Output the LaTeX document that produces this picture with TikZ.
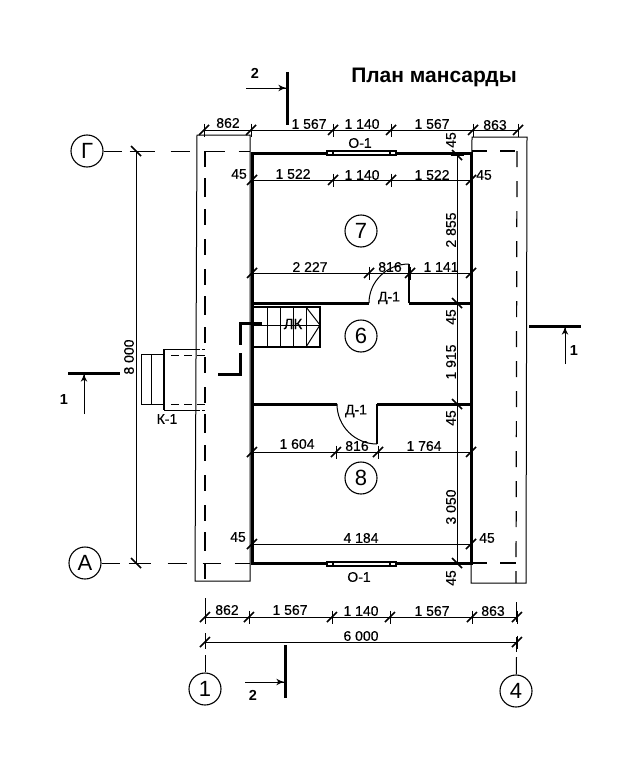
\documentclass[tikz,border=0pt]{standalone}
\usepackage{fontspec}
\setmainfont{Liberation Sans}
\newfontfamily\dimfont[FakeBold=0.4]{Liberation Sans}
\usetikzlibrary{arrows}
\usetikzlibrary{decorations.markings}
\tikzset{->/.style = {decoration={markings,
                                  mark=at position 1 with {\arrow[scale=1.5]{latex'}}},
                      postaction={decorate}}}
\tikzset{wall/.style = {line width = 3pt}}
\tikzset{thinline/.style = {line width = 1pt}}
\tikzset{section/.style = {line width = 3pt}}
\tikzset{axisline/.style = {line width = 1pt, dash pattern = on 17pt off 15pt}}
\tikzset{vaxis/.style = {line width = 1.2pt, dash pattern = on 16pt off 14pt}}
\tikzset{dimtxt/.style = {inner sep = 0, font = \dimfont\fontsize{14}{14}\selectfont}}
\tikzset{dimvert/.style = {dimtxt, rotate = 90}}
\tikzset{seclabel/.style = {inner sep = 0, font = \fontsize{14.5}{15}\selectfont\bfseries}}
\tikzset{bubble/.style = {draw, circle, line width = 1.1pt, inner sep = 0, minimum size = 32,
                          font = \fontsize{22}{22}\selectfont}}
\tikzset{tickh/.pic = {\draw [line width = 1.6pt] (-5, 5) -- (5, -5);
                       \draw [line width = 0.8pt] (0, -6.5) -- (0, 6.5);}}
\tikzset{tickv/.pic = {\draw [line width = 1.6pt] (-5, -5) -- (5, 5);
                       \draw [line width = 0.8pt] (-6.5, 0) -- (6.5, 0);}}

\begin{document}
\begin{tikzpicture}[x = 1pt, y = -1pt]
    \useasboundingbox (0, 0) rectangle (622, 768);
    \node [font = \fontsize{21}{21}\selectfont\bfseries, inner sep = 0] (title) at (434, 77) {План мансарды};

    % overhangs
    \draw [thinline] (197, 135) -- (250, 135) -- (250, 581) -- (195, 581) -- cycle;
    \draw [thinline] (472, 137) -- (527, 137) -- (526, 583) -- (471, 583) -- cycle;

    % grid bubbles and axes
    \node [bubble] (axG) at (87, 151) {Г};
    \node [bubble] (axA) at (85, 563) {А};
    \node [bubble] (ax1) at (205, 689) {1};
    \node [bubble] (ax4) at (516, 691) {4};
    \draw [axisline, dash pattern = on 18pt off 11pt on 22pt off 16pt on 19pt off 16pt on 19pt off 14pt on 14pt off 100pt] (axG) -- (250, 151);
    \draw [axisline, dash pattern = on 18pt off 9pt on 22pt off 17pt on 19pt off 16pt on 18pt off 14pt on 16pt off 100pt] (axA) -- (250, 563);
    \draw [axisline, line width = 1.2pt, dash pattern = on 15pt off 13pt on 15pt off 100pt] (472, 151) -- (517, 151);
    \draw [axisline, line width = 1.2pt, dash pattern = on 15pt off 13pt on 16pt off 100pt] (472, 563) -- (516, 563);
    \draw [vaxis, dash pattern = on 16pt off 11pt on 19pt off 12pt on 16pt off 14pt on 16pt off 14pt] (205, 151) -- (205, 581);
    \draw [vaxis] (517, 151) -- (516, 583);
    \draw [thinline] (205, 598) -- (205, 622);
    \draw [thinline] (205, 633) -- (205, 648);
    \draw [thinline] (205, 655) -- (ax1);
    \draw [thinline] (516.5, 602) -- (516.5, 622);
    \draw [thinline] (516.5, 637) -- (516.5, 652);
    \draw [thinline] (516.5, 657) -- (ax4);

    % outer walls
    \draw [wall] (252, 565) -- (252, 153) -- (471, 153) -- (471, 565);
    \draw [line width = 2.5pt] (252, 563.5) -- (471, 563.5);

    % windows
    \foreach \y in {153, 564} {
      \draw [fill = white, line width = 1.3pt] (327, \y - 2) rectangle (396, \y + 2);
      \draw [line width = 1.2pt] (333, \y - 2) -- (333, \y + 2) (390, \y - 2) -- (390, \y + 2);
    }

    % partitions and doors
    \draw [wall] (252, 303) -- (369, 303);
    \draw [wall] (409, 303) -- (471, 303);
    \draw [wall] (252, 404) -- (337, 404);
    \draw [wall] (377, 404) -- (471, 404);
    \draw [line width = 1.8pt] (409, 303) -- (409, 264);
    \draw [line width = 1.8pt] (377, 404) -- (377, 444);
    \draw [thinline] (369, 303) arc [start angle = 180, end angle = 90, x radius = 40, y radius = -39];
    \draw [thinline] (337, 404) arc [start angle = 180, end angle = 270, x radius = 40, y radius = -40];

    % stair
    \draw [line width = 2.5pt] (253, 307) rectangle (320, 347);
    \foreach \x in {267, 280, 293, 306} {
      \draw [thinline] (\x, 307) -- (\x, 347);
    }
    \draw [thinline] (253, 325) -- (320, 325);
    \draw [thinline] (306, 307) -- (320, 325) -- (306, 347);
    \node [dimtxt, font = \dimfont\fontsize{15}{15}\selectfont] (stair) at (293, 324) {ЛК};

    % porch K-1
    \draw [thinline] (197, 349) -- (164, 349);
    \draw [thinline] (164, 410) -- (197, 410);
    \draw [line width = 1.4pt] (164, 349) -- (164, 410);
    \draw [thinline] (164, 354) rectangle (141, 404);
    \draw [thinline] (151, 354) -- (151, 404);
    \draw [thinline, dash pattern = on 8pt off 5pt] (171, 355) -- (205, 355);
    \draw [thinline, dash pattern = on 8pt off 5pt] (171, 404) -- (205, 404);
    \draw [thinline, dash pattern = on 3pt off 2pt] (197, 349) -- (205, 349);
    \draw [thinline, dash pattern = on 3pt off 2pt] (197, 410) -- (205, 410);
    \node [dimtxt] (porch) at (167, 419) {К-1};

    % section marks
    \draw [section] (287, 72) -- (287, 125);
    \draw [->, thinline] (246, 88) -- (287, 88);
    \node [seclabel] (sec2a) at (255, 73) {2};
    \draw [section] (285, 645) -- (285, 698);
    \draw [->, thinline] (245, 682) -- (285, 682);
    \node [seclabel] (sec2b) at (253, 695) {2};
    \draw [section] (68, 373) -- (120, 373);
    \draw [->, thinline] (84, 414) -- (84, 373);
    \node [seclabel] (sec1a) at (64, 400) {1};
    \draw [section] (529, 326) -- (581, 326);
    \draw [->, thinline] (565, 364) -- (565, 326);
    \node [seclabel] (sec1b) at (574, 351) {1};
    \draw [wall] (262, 323) -- (240, 323) -- (240, 345);
    \draw [wall] (240, 353) -- (240, 374) -- (218, 374);

    % dimension lines
    \foreach \y/\xa/\xb in {130/204/518, 180/252/471, 273/252/471, 452/252/471, 544/252/471, 617/205/517, 642/205/517} {
      \draw [thinline] (\xa, \y) -- (\xb, \y);
    }
    \foreach \p in {(204, 130), (251, 130), (333, 130), (391, 130), (473, 130), (518, 130),
                    (252, 180), (333, 180), (391, 180), (471, 180),
                    (252, 273), (369, 273), (410, 273), (471, 273),
                    (252, 452), (336, 452), (378, 452), (471, 452),
                    (252, 544), (471, 544),
                    (205, 617), (249, 617), (332, 617), (390, 617), (472, 617), (517, 617),
                    (205, 642), (517, 642)} {
      \path \p pic {tickh};
    }
    \draw [thinline] (136, 151) -- (136, 563);
    \draw [thinline] (457, 153) -- (457, 563);
    \foreach \p in {(136, 151), (136, 563), (457, 155), (457, 303), (457, 404), (457, 563)} {
      \path \p pic {tickv};
    }

    % dimension texts
    \foreach \x/\y/\t [count = \i] in {228/123/862, 309/124/1 567, 362/124/1 140, 432/124/1 567, 495/125/863,
                                       239/174/45, 293/174/1 522, 362/175/1 140, 432/175/1 522, 484/175/45,
                                       310/267/2 227, 390/267/816, 441/267/1 141,
                                       297/444/1 604, 357/446/816, 424/446/1 764,
                                       238/537/45, 361/538/4 184, 487/538/45,
                                       227/610/862, 290/610/1 567, 361/611/1 140, 432/611/1 567, 493/611/863,
                                       361/636/6 000,
                                       360/143/О-1, 359/577/О-1, 389/298/Д-1, 356/411/Д-1} {
      \node [dimtxt] (dim\i) at (\x, \y) {\t};
    }
    \foreach \x/\y/\t [count = \i] in {451/140/45, 451/230/2 855, 451/317/45, 451/362/1 915,
                                       451/418/45, 451/507/3 050, 451/578/45, 129/357/8 000} {
      \node [dimvert] (dimv\i) at (\x, \y) {\t};
    }

    % room numbers
    \node [bubble] (room7) at (361, 231) {7};
    \node [bubble] (room6) at (361, 336) {6};
    \node [bubble] (room8) at (361, 478) {8};
\end{tikzpicture}
\end{document}
